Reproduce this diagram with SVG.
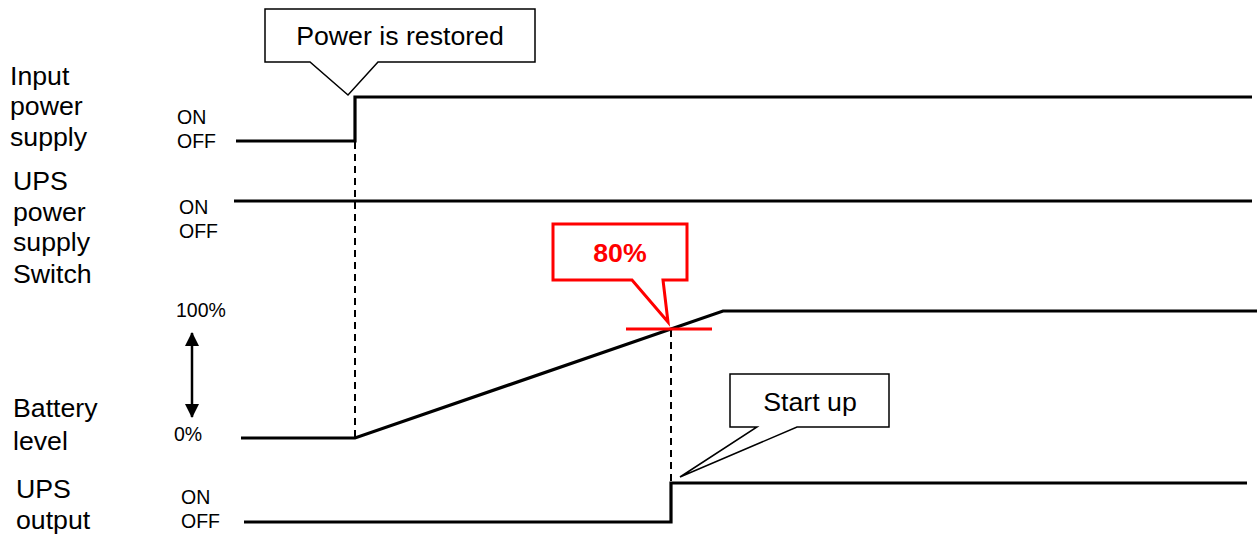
<svg xmlns="http://www.w3.org/2000/svg" width="1257" height="535" viewBox="0 0 1257 535">
<defs>
<style>
text{font-family:"Liberation Sans",Arial,sans-serif;fill:#000}
.lbl{font-size:26.7px}
.sm{font-size:19.5px}
.sig{fill:none;stroke:#000;stroke-width:3.2}
.dash{fill:none;stroke:#000;stroke-width:2;stroke-dasharray:7 5}
.call{fill:#fff;stroke:#000;stroke-width:1.5}
.redcall{fill:#fff;stroke:#f00;stroke-width:3}
</style>
<marker id="ah" viewBox="0 0 14 14" refX="13" refY="7" markerWidth="14" markerHeight="14" markerUnits="userSpaceOnUse" orient="auto-start-reverse">
<path d="M0,0 L14,7 L0,14 Z" fill="#000"/>
</marker>
</defs>
<rect width="1257" height="535" fill="#fff"/>
<g id="labels">
<text class="lbl" x="10" y="85">Input</text>
<text class="lbl" x="10" y="115">power</text>
<text class="lbl" x="10" y="146">supply</text>
<text class="lbl" x="13" y="190">UPS</text>
<text class="lbl" x="13" y="221">power</text>
<text class="lbl" x="13" y="251">supply</text>
<text class="lbl" x="13" y="283">Switch</text>
<text class="lbl" x="13" y="417">Battery</text>
<text class="lbl" x="13" y="450">level</text>
<text class="lbl" x="16" y="498">UPS</text>
<text class="lbl" x="16" y="529">output</text>
<text class="sm" x="177" y="124">ON</text>
<text class="sm" x="177" y="148">OFF</text>
<text class="sm" x="179" y="214">ON</text>
<text class="sm" x="179" y="238">OFF</text>
<text class="sm" x="176" y="317">100%</text>
<text class="sm" x="174" y="441">0%</text>
<text class="sm" x="181" y="504">ON</text>
<text class="sm" x="181" y="528">OFF</text>
</g>
<g id="connectors">
<line class="dash" x1="355" y1="142" x2="355" y2="438"/>
<line class="dash" x1="671" y1="330" x2="671" y2="483"/>
<line x1="192" y1="333" x2="192" y2="417" stroke="#000" stroke-width="2.5" marker-start="url(#ah)" marker-end="url(#ah)"/>
</g>
<g id="input-power">
<polyline class="sig" points="236,141 355,141 355,97 1252,97"/>
</g>
<g id="ups-switch">
<polyline class="sig" points="234,201 1252,201"/>
</g>
<g id="battery">
<polyline class="sig" points="241,438 355,438 723,311 1257,311"/>
</g>
<g id="ups-output">
<polyline class="sig" points="244,522 671,522 671,483 1247,483"/>
</g>
<g id="power-restored">
<path class="call" d="M265,9 H535 V62 H378 L348,95 L310,62 H265 Z"/>
<text class="lbl" x="400" y="45" text-anchor="middle">Power is restored</text>
</g>
<g id="threshold-80">
<line x1="626" y1="329" x2="712" y2="329" stroke="#f00" stroke-width="3"/>
<path class="redcall" d="M553,224 H687 V280 H663 L668,322 L632,280 H553 Z"/>
<text x="620" y="262" text-anchor="middle" style="font-size:26.7px;font-weight:bold;fill:#f00">80%</text>
</g>
<g id="start-up">
<path class="call" d="M730,374 H889 V427 H797 L680,477 L757,427 H730 Z"/>
<text class="lbl" x="810" y="411" text-anchor="middle">Start up</text>
</g>
</svg>
